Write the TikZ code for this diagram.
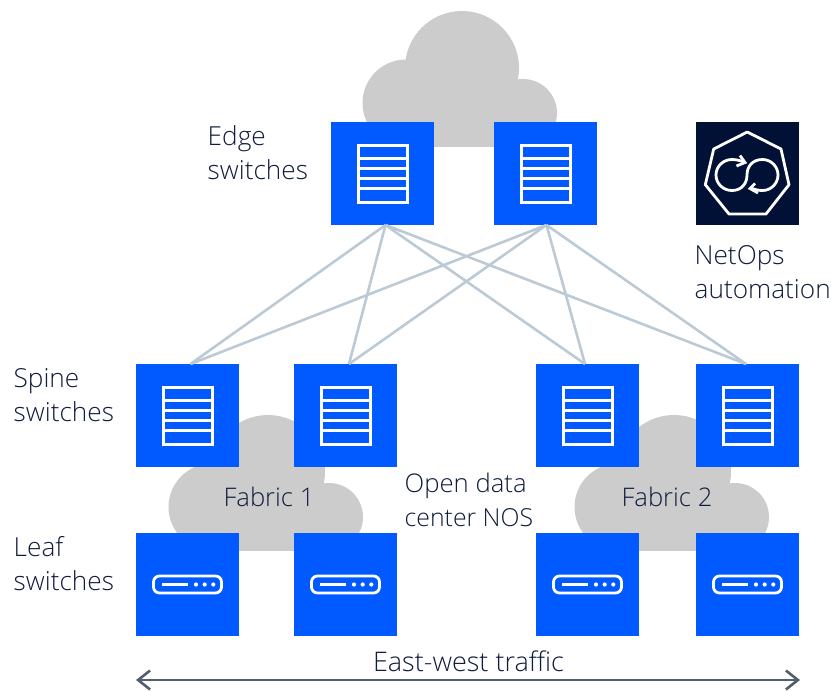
\documentclass[tikz,border=0pt]{standalone}
\usepackage{fontspec}
\setmainfont{Open Sans}[UprightFont=* Light]
\usetikzlibrary{arrows.meta}
\definecolor{blu}{HTML}{005AFF}
\definecolor{navy}{HTML}{001135}
\definecolor{ink}{HTML}{101C3C}
\definecolor{wire}{HTML}{BCCAD6}
\definecolor{grayc}{HTML}{CCCCCC}
\definecolor{arrowc}{HTML}{545F6E}
\tikzset{
  box/.style={fill=blu,minimum size=103pt,inner sep=0pt,outer sep=0pt,anchor=north west},
  darkbox/.style={box,fill=navy},
  wirel/.style={draw=wire,line width=2.6pt},
  lbl/.style={text=ink,font=\fontsize{26.2}{34}\selectfont,align=left,inner sep=0pt},
  ico/.style={draw=white,line width=3pt},
  cloudpic/.pic={
    \fill[grayc] (462,68) circle[radius=57];
    \fill[grayc] (406,103) circle[radius=43.5];
    \fill[grayc] (523,113) circle[radius=34];
    \fill[grayc] (406,90) rectangle (523,147);
  },
  srv/.pic={
    \draw[ico] (-24.5,-28.5) rectangle (24.5,28.5);
    \draw[ico] (-24.5,-15.5) -- (24.5,-15.5) (-24.5,-5.5) -- (24.5,-5.5) (-24.5,4.5) -- (24.5,4.5) (-24.5,14.5) -- (24.5,14.5);
  },
  lf/.pic={
    \draw[ico,line width=2.8pt,rounded corners=6pt] (-34,-8.5) rectangle (34,8.5);
    \draw[white,line width=2.6pt] (-25.5,0) -- (0.5,0);
    \fill[white] (8.5,0) circle[radius=2.1] (17.2,0) circle[radius=2.1] (25.8,0) circle[radius=2.1];
  },
}
\begin{document}
\begin{tikzpicture}[x=1pt,y=-1pt]
\useasboundingbox (0,0) rectangle (831,691);
% clouds
\pic at (0,0) {cloudpic};
\pic at (-194,404) {cloudpic};
\pic at (212,404) {cloudpic};
% switches
\node[box] (e1) at (331,122) {};
\node[box] (e2) at (494,122) {};
\node[box] (s1) at (136,364) {};
\node[box] (s2) at (294,364) {};
\node[box] (s3) at (536,364) {};
\node[box] (s4) at (696,364) {};
\node[box] (l1) at (136,533) {};
\node[box] (l2) at (294,533) {};
\node[box] (l3) at (536,533) {};
\node[box] (l4) at (696,533) {};
\node[darkbox] (auto) at (696,122) {};
\foreach \n in {e1,e2,s1,s2,s3,s4} \pic at (\n.center) {srv};
\foreach \n in {l1,l2,l3,l4} \pic at (\n.center) {lf};
% links
\foreach \a/\sa in {e1/3,e2/1}
  \foreach \b/\sb in {s1/3,s2/3.5,s3/-2.5,s4/-1.5}
    \draw[wirel] ([xshift=\sa pt]\a.south) -- ([xshift=\sb pt]\b.north);
% automation icon
\draw[white,line width=2.8pt,line join=round] (747.3,132) -- (781,149) -- (789,184.7) -- (766,214) -- (729,214) -- (705.3,184.7) -- (713.7,149) -- cycle;
\draw[white,line width=2.8pt]
  (744,162) .. controls (740,160.5) and (736,159.5) .. (732,159.5)
  .. controls (723,159.5) and (716,166.5) .. (716,175)
  .. controls (716,183.5) and (723,190.5) .. (732,190.5)
  .. controls (742,190.5) and (747,183) .. (747,175)
  .. controls (747,167) and (752,159.5) .. (762.5,159.5)
  .. controls (771,159.5) and (778,166.5) .. (778,175)
  .. controls (778,183.5) and (771,190.5) .. (762.5,190.5)
  .. controls (758,190.5) and (755,189.5) .. (751,188);
\draw[white,line width=2.8pt] (740,155.5) -- (745,162.5) -- (736.5,166);
\draw[white,line width=2.8pt] (755,183.5) -- (750,188.5) -- (758,193);
% labels
\node[lbl,anchor=west] (t1) at (207.5,153) {Edge\\switches};
\node[lbl,anchor=west] (t2) at (13.5,395) {Spine\\switches};
\node[lbl,anchor=west] (t3) at (13.5,564) {Leaf\\switches};
\node[lbl,anchor=west] (t4) at (694.5,272.5) {NetOps\\automation};
\node[lbl,anchor=west] (t5) at (404.5,499.5) {\fontsize{25.7}{34}\selectfont Open data\\\fontsize{24.8}{34}\selectfont center NOS};
\node[lbl,anchor=center,font=\fontsize{25.6}{34}\selectfont] (f1) at (269,497) {Fabric 1};
\node[lbl,anchor=center,font=\fontsize{25.6}{34}\selectfont] (f2) at (667,497) {Fabric 2};
\node[lbl,anchor=center,font=\fontsize{27}{34}\selectfont] (ew) at (468.5,661) {East-west traffic};
% arrow
\coordinate (aL) at (136,680);
\coordinate (aR) at (800,680);
\draw[arrowc,line width=2.6pt,{Straight Barb[length=12pt,width=19pt]}-{Straight Barb[length=12pt,width=19pt]}] (aL) -- (aR);
\end{tikzpicture}
\end{document}
